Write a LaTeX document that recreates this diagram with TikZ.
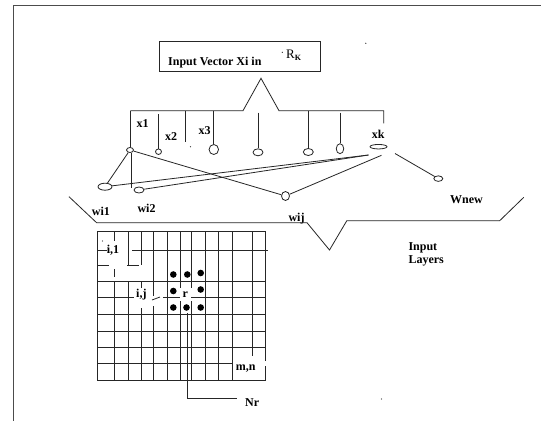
\documentclass[tikz,border=0pt]{standalone}
\usepackage{fontspec}
\setmainfont{Liberation Serif}
\usetikzlibrary{shapes.geometric}
\begin{document}
\begin{tikzpicture}[x=1pt,y=-1pt,
  ln/.style={line width=0.8pt, draw=black!85},
  nd/.style={ellipse, draw=black!85, line width=0.8pt, inner sep=0pt, fill=white},
  lbl/.style={inner sep=0pt, anchor=base west, font=\fontsize{12}{14}\selectfont\bfseries},
  bdot/.style={circle, fill=black, inner sep=0pt, minimum size=6.6pt},
  speck/.style={circle, fill=black!80, inner sep=0pt, minimum size=1.3pt}]
\useasboundingbox (0,0) rectangle (541,421);
\fill[white] (0,0) rectangle (541,421);
% frame
\draw[ln, draw=black!70] (541,5) -- (13.8,5) -- (13.8,421);
% title box
\node[draw=black!85, line width=0.8pt, minimum width=161pt, minimum height=30pt, inner sep=0pt, anchor=north west] (box) at (159,41) {};
\node[lbl] (title) at (168,65) {Input Vector Xi in};
\node[inner sep=0pt, anchor=base west, font=\fontsize{13}{15}\selectfont] (rk) at (286,58) {R\raisebox{-2.8pt}{\fontsize{8}{9}\selectfont\bfseries K}};
% brace
\draw[ln] (130.4,110.7) -- (243,110.7) -- (261,78.3) -- (279,110.7) -- (383.7,110.7) -- (383.7,123.3);
% input circles
\node[nd, minimum width=7pt, minimum height=5pt] (c1) at (130,150) {};
\node[nd, minimum width=6pt, minimum height=5.5pt] (c2) at (158.5,151.7) {};
\node[nd, minimum width=9.5pt, minimum height=10pt] (c3) at (213.8,149.5) {};
\node[nd, minimum width=10pt, minimum height=7pt] (c4) at (258,152.3) {};
\node[nd, minimum width=10pt, minimum height=7pt] (c5) at (308.3,152) {};
\node[nd, minimum width=7.5pt, minimum height=10pt] (c6) at (340,148.7) {};
\node[nd, minimum width=17pt, minimum height=4.5pt] (ck) at (378.5,146.7) {};
\node[nd, minimum width=9pt, minimum height=5.5pt] (wn) at (438.3,178.6) {};
\node[nd, minimum width=14pt, minimum height=7pt] (w1) at (105,186.7) {};
\node[nd, minimum width=10pt, minimum height=6pt] (w2) at (139,190) {};
\node[nd, minimum width=8pt, minimum height=9pt] (wj) at (285.5,196) {};
% drops from brace
\draw[ln] (c1.north |- 0,110.7) -- (c1.north);
\draw[ln] (c2.north |- 0,114) -- (c2.north);
\draw[ln] (185.6,110.7) -- (185.6,141.7);
\draw[ln] (c3.north |- 0,110.7) -- (c3.north);
\draw[ln] (c4.north |- 0,112.7) -- (c4.north);
\draw[ln] (c5.north |- 0,110.7) -- (c5.north);
\draw[ln] (c6.north |- 0,112.7) -- (c6.north);
% connector end points near xk
\coordinate (ckL) at (368.5,155);
\coordinate (ckB) at (381.5,155.3);
\coordinate (ckR) at (395,153.5);
% connectors
\draw[ln] (c1) -- (w1);
\draw[ln] (c1.-55) -- (c1.-55 |- w2.150);
\draw[ln] (c1) -- (wj);
\draw[ln] (w1) -- (ckL);
\draw[ln] (w2) -- (ckL);
\draw[ln] (wj) -- (ckB);
\draw[ln] (ckR) -- (wn);
% labels
\node[lbl] (lx1) at (136.3,127.3) {x1};
\node[lbl] (lx2) at (165,140) {x2};
\node[lbl] (lx3) at (198.4,134) {x3};
\node[lbl] (lxk) at (371.7,138.3) {xk};
\node[lbl] (lw1) at (91.7,215) {wi1};
\node[lbl] (lw2) at (137.3,212.7) {wi2};
\node[lbl] (lwj) at (288.3,221) {wij};
\node[lbl] (lwn) at (450,203.3) {Wnew};
\node[lbl] (lin) at (408.3,250.5) {Input};
\node[lbl] (lla) at (408.3,263.5) {Layers};
% layer bracket
\draw[ln] (69,196.7) -- (96.6,222.7) -- (307,222.7) -- (329.5,250) -- (346.8,220.7) -- (499.7,220.7) -- (523.8,197.3);
% grid verticals
\foreach \x/\a/\b in {97.3/231.7/380.5, 114.8/231.7/241, 114.8/269/277, 114.8/281/380.5,
  128.3/231.7/265, 128.3/281/380.5, 141/231.7/265, 141/281/288, 141/308/380.5,
  153.3/231.7/296, 153.3/306/380.5, 167.3/231.7/380.5, 180/231.7/288, 180/301/380.5,
  191.7/231.7/288, 191.7/301/380.5, 205/231.7/380.5, 218.5/231.7/380.5,
  232.5/231.7/380.5, 252/231.7/356, 265.5/231.7/361, 265.5/366/380.5}
  \draw[ln] (\x,\a) -- (\x,\b);
% grid horizontals
\foreach \y/\a/\b in {231.7/97.3/265.5, 250/97.3/107, 250/132/268, 265.5/97.3/109,
  265.5/127/139, 281/97.3/266, 297.5/97.3/134, 297.5/163/180, 297.5/191/266,
  314.5/97.3/266, 331/97.3/266, 347/97.3/266, 363.5/97.3/233, 380.5/97.3/265.5}
  \draw[ln] (\a,\y) -- (\b,\y);
\draw[ln] (152,300) -- (160,297);
% grid labels
\node[lbl] (li1) at (106.7,253) {i,1};
\node[lbl] (lij) at (136,297) {i,j};
\node[lbl] (lr) at (182.5,297.5) {r};
\node[lbl] (lmn) at (235.7,370.5) {m,n};
% neighbourhood dots
\foreach \p/\q [count=\i] in {173.3/274.5, 187.3/274.5, 200.7/273, 173.3/291, 200.7/289.5, 173.3/307.5, 186.5/307.5, 200.7/307.5}
  \node[bdot] (d\i) at (\p,\q) {};
% Nr connector
\coordinate (nrtop) at (187.3,313);
\coordinate (nrend) at (237,398.3);
\draw[ln] (nrtop) -- (nrtop |- nrend) -- (nrend);
\node[lbl] (lnr) at (245,406.7) {Nr};
% stray specks
\node[speck] (s1) at (365.8,43.3) {};
\node[speck] (s2) at (282.3,52.3) {};
\node[speck] (s3) at (190.5,146.7) {};
\node[speck] (s4) at (102.5,241) {};
\node[speck] (s5) at (381.5,399) {};
\end{tikzpicture}
\end{document}
